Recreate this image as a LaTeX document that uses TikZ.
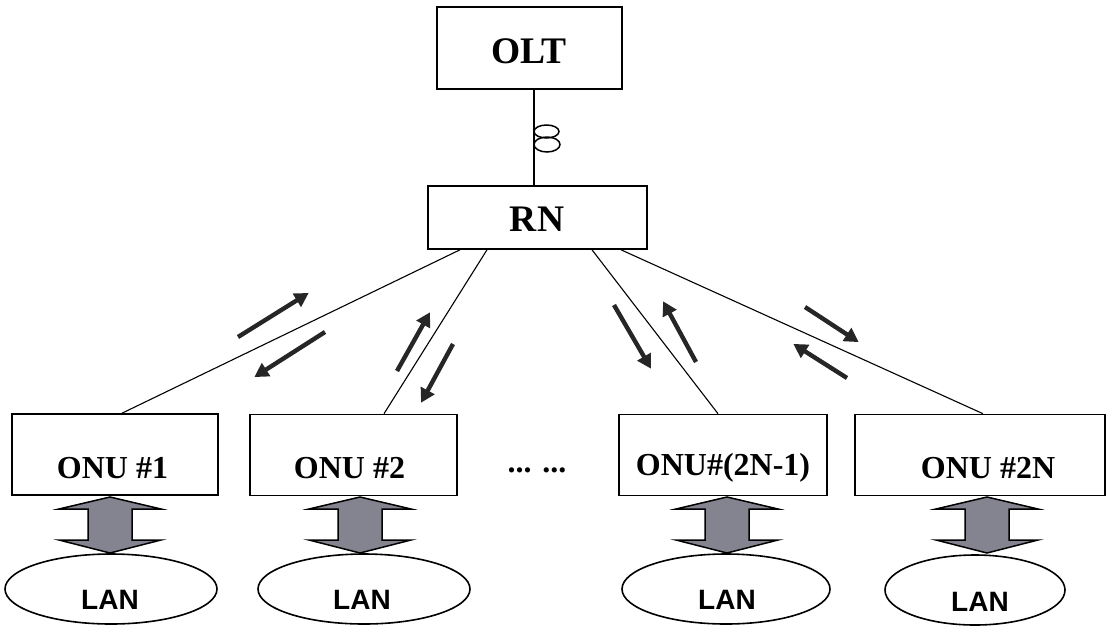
\documentclass[tikz,border=0pt]{standalone}
\usepackage{fontspec}
\setmainfont{Liberation Serif}
\newfontfamily\lansans{Liberation Sans}
\usetikzlibrary{arrows.meta,shapes.geometric}
\definecolor{linkgray}{RGB}{132,132,144}
\tikzset{
  unitbox/.style={draw=black, line width=1.6pt, fill=white, inner sep=0pt},
  bigtext/.style={font=\fontsize{37.5}{40}\selectfont\bfseries, inner sep=0pt},
  onutext/.style={font=\fontsize{32}{36}\selectfont\bfseries, inner sep=0pt},
  lantext/.style={font=\lansans\fontsize{28}{30}\selectfont\bfseries, inner sep=0pt},
  lanshape/.style={draw=black, line width=1.6pt, ellipse, inner sep=0pt},
  fiber/.style={draw=black, line width=1.1pt},
  flow/.style={draw=black!85, line width=4.4pt, -{Triangle[length=14pt,width=15pt]}, shorten >=-2pt},
  lanlink/.pic={
    \filldraw[fill=linkgray, draw=black, line width=1.5pt, line join=miter]
      (0,-28) -- (51,-16) -- (22,-16) -- (22,15) -- (51,15) -- (0,28)
      -- (-51,15) -- (-22,15) -- (-22,-16) -- (-51,-16) -- cycle;
  }
}
\begin{document}
\begin{tikzpicture}[x=1pt,y=-1pt]
\path[use as bounding box] (0,0) rectangle (1108,630);

% local networks (drawn first so the interface arrows sit on top)
\node[lanshape, minimum width=212pt, minimum height=70pt] (lan1) at (111,589) {};
\node[lanshape, minimum width=212pt, minimum height=70pt] (lan2) at (364,589) {};
\node[lanshape, minimum width=208pt, minimum height=70pt] (lan3) at (726,589) {};
\node[lanshape, minimum width=180pt, minimum height=70pt] (lan4) at (975,590) {};
\node[lantext] (lan1label) at (110,600) {LAN};
\node[lantext] (lan2label) at (362,600) {LAN};
\node[lantext] (lan3label) at (727,600) {LAN};
\node[lantext] (lan4label) at (980,602) {LAN};

% ONU to LAN interfaces
\pic at (110,525) {lanlink};
\pic at (360,525) {lanlink};
\pic at (727,525) {lanlink};
\pic at (987,525) {lanlink};

% head end and remote node
\node[unitbox, minimum width=185pt, minimum height=82pt] (olt) at (529.5,48) {};
\node[bigtext] (oltlabel) at (529,51) {OLT};
\node[unitbox, minimum width=219pt, minimum height=63pt] (rn) at (537.5,217.5) {};
\node[bigtext] (rnlabel) at (537,219) {RN};

% feeder fibre with its spool
\draw[fiber] ([xshift=4.5pt]olt.south) -- ([xshift=-3.5pt]rn.north);
\draw[line width=1.5pt] (546.5,131.5) ellipse [x radius=12.5, y radius=6.5];
\draw[line width=1.5pt] (547,144.5) ellipse [x radius=13, y radius=7.5];

% optical network units
\node[unitbox, minimum width=206pt, minimum height=81pt] (onu1) at (115,454.5) {};
\node[unitbox, minimum width=207pt, minimum height=81pt] (onu2) at (353.5,455) {};
\node[unitbox, minimum width=208pt, minimum height=81pt] (onu3) at (723,455) {};
\node[unitbox, minimum width=250pt, minimum height=81pt] (onu4) at (980,455) {};
\node[onutext] (onu1label) at (112.5,468) {ONU \#1};
\node[onutext] (onu2label) at (349.5,468) {ONU \#2};
\node[onutext] (onu3label) at (723,468) {ONU\#(2N-1)};
\node[onutext] (onu4label) at (988,468) {ONU \#2N};
\node[onutext] (gap) at (537,470) {... ...};

% distribution fibres
\draw[fiber] ([xshift=-77.5pt]rn.south) -- ([xshift=7pt]onu1.north);
\draw[fiber] ([xshift=-50.5pt]rn.south) -- ([xshift=30.5pt]onu2.north);
\draw[fiber] ([xshift=54.5pt]rn.south) -- ([xshift=-5pt]onu3.north);
\draw[fiber] ([xshift=83.5pt]rn.south) -- ([xshift=3pt]onu4.north);

% upstream / downstream traffic
\coordinate (a1s) at (238,337); \coordinate (a1e) at (307,294);
\coordinate (a2s) at (325,332); \coordinate (a2e) at (256,376);
\coordinate (a3s) at (397,371); \coordinate (a3e) at (429,314);
\coordinate (a4s) at (453,344); \coordinate (a4e) at (422,401);
\coordinate (a5s) at (614,305); \coordinate (a5e) at (650,367);
\coordinate (a6s) at (696,362); \coordinate (a6e) at (664,303);
\coordinate (a7s) at (805,307); \coordinate (a7e) at (857,341);
\coordinate (a8s) at (847,378); \coordinate (a8e) at (795,345);
\foreach \k in {1,...,8} { \draw[flow] (a\k s) -- (a\k e); }
\end{tikzpicture}
\end{document}
